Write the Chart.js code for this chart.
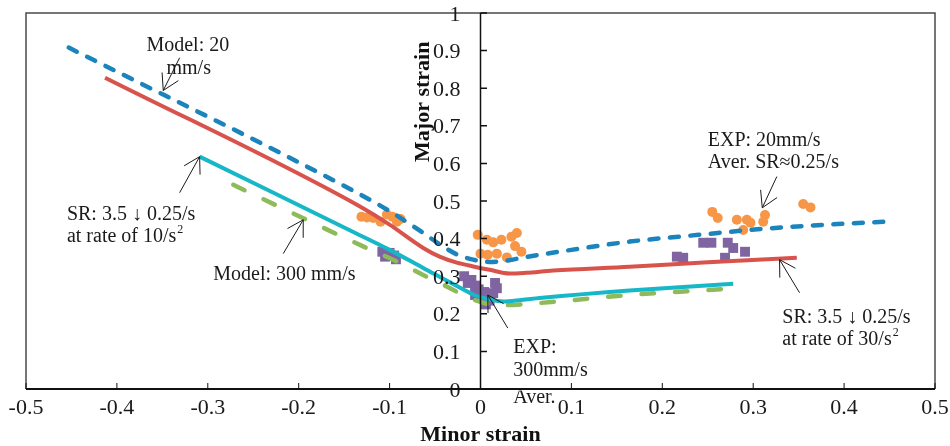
<!DOCTYPE html>
<html>
<head>
<meta charset="utf-8">
<script src="https://cdn.jsdelivr.net/npm/chart.js@4.4.1/dist/chart.umd.min.js"></script>
<style>
html, body { margin: 0; padding: 0; background: #fff; }
</style>
</head>
<body>
<canvas id="myChart" width="950" height="446"></canvas>
<script>
// axis ticks
var xTicks = [-0.5, -0.4, -0.3, -0.2, -0.1, 0, 0.1, 0.2, 0.3, 0.4, 0.5];
var yTicks = [0, 0.1, 0.2, 0.3, 0.4, 0.5, 0.6, 0.7, 0.8, 0.9, 1];

// Model: 20 mm/s (dashed blue)
var model20X = [-0.453, -0.136, -0.1, -0.063, -0.045, -0.026, -0.008, 0.01, 0.03, 0.05, 0.1, 0.164, 0.24, 0.311, 0.38, 0.447];
var model20Y = [0.908, 0.522, 0.473, 0.415, 0.385, 0.358, 0.344, 0.338, 0.342, 0.351, 0.37, 0.392, 0.41, 0.426, 0.437, 0.445];

// SR 3.5 -> 0.25/s at 30/s2 (red)
var sr30X = [-0.413, -0.136, -0.1, -0.063, -0.045, -0.026, -0.008, 0.01, 0.032, 0.05, 0.08, 0.164, 0.25, 0.348];
var sr30Y = [0.828, 0.49, 0.437, 0.375, 0.352, 0.336, 0.326, 0.317, 0.307, 0.309, 0.315, 0.325, 0.337, 0.349];

// SR 3.5 -> 0.25/s at 10/s2 (cyan)
var sr10X = [-0.309, -0.136, -0.1, -0.063, -0.026, -0.005, 0.01, 0.025, 0.045, 0.065, 0.164, 0.278];
var sr10Y = [0.618, 0.413, 0.37, 0.322, 0.274, 0.248, 0.238, 0.233, 0.237, 0.242, 0.262, 0.28];

// Model: 300 mm/s (dashed green)
var model300X = [-0.272, -0.128, -0.092, -0.062, -0.035, -0.015, 0.005, 0.025, 0.05, 0.1, 0.164, 0.269];
var model300Y = [0.543, 0.378, 0.339, 0.302, 0.27, 0.245, 0.228, 0.223, 0.226, 0.236, 0.25, 0.266];

// EXP: 20 mm/s (orange dots)
var exp20X = [-0.131, -0.125, -0.118, -0.11, -0.103, -0.097, -0.092, -0.088,
  -0.003, 0.007, 0.014, 0.023, 0.034, 0.038, 0.04, 0.0, 0.008, 0.018, 0.029, 0.045,
  0.255, 0.261, 0.282, 0.293, 0.297, 0.289, 0.313, 0.311, 0.355, 0.363];
var exp20Y = [0.458, 0.456, 0.455, 0.445, 0.464, 0.458, 0.445, 0.452,
  0.41, 0.397, 0.39, 0.397, 0.405, 0.38, 0.415, 0.36, 0.357, 0.36, 0.35, 0.365,
  0.471, 0.455, 0.45, 0.45, 0.442, 0.423, 0.463, 0.445, 0.492, 0.483];

// EXP: 300 mm/s (purple squares)
var exp300X = [-0.108, -0.1, -0.095, -0.105, -0.093,
  -0.018, -0.01, -0.014, -0.006, -0.002, 0.004, -0.006, 0.002, 0.01, 0.016, 0.018, 0.014, 0.006, 0.01,
  0.216, 0.223, 0.245, 0.254, 0.272, 0.278, 0.269, 0.291];
var exp300Y = [0.365, 0.362, 0.355, 0.352, 0.345,
  0.3, 0.29, 0.282, 0.275, 0.265, 0.258, 0.25, 0.245, 0.252, 0.282, 0.268, 0.255, 0.225, 0.235,
  0.352, 0.349, 0.389, 0.389, 0.389, 0.375, 0.349, 0.365];

// text notes and arrows, in chart units
var notes = [
  {x: -0.322, y: 0.916, text: "Model: 20", align: "center"},
  {x: -0.321, y: 0.855, text: "mm/s", align: "center"},
  {x: -0.455, y: 0.466, text: "SR: 3.5 \u2193 0.25/s", align: "left"},
  {x: -0.455, y: 0.407, text: "at rate of 10/s", sup: "2", align: "left"},
  {x: -0.294, y: 0.306, text: "Model: 300 mm/s", align: "left"},
  {x: 0.25, y: 0.663, text: "EXP: 20mm/s", align: "left"},
  {x: 0.25, y: 0.605, text: "Aver. SR\u22480.25/s", align: "left"},
  {x: 0.332, y: 0.192, text: "SR: 3.5 \u2193 0.25/s", align: "left"},
  {x: 0.332, y: 0.133, text: "at rate of 30/s", sup: "2", align: "left"},
  {x: 0.036, y: 0.112, text: "EXP:", align: "left"},
  {x: 0.036, y: 0.051, text: "300mm/s", align: "left"},
  {x: 0.036, y: -0.02, text: "Aver.", align: "left"}
];
var arrows = [
  [-0.331, 0.881, -0.349, 0.794],
  [-0.331, 0.522, -0.309, 0.618],
  [-0.217, 0.36, -0.195, 0.45],
  [0.326, 0.565, 0.31, 0.482],
  [0.351, 0.256, 0.329, 0.344],
  [0.03, 0.162, 0.008, 0.25]
];

function pts(xs, ys) {
  return xs.map(function (x, i) { return {x: x, y: ys[i]}; });
}

var serif = "'Liberation Serif', 'Times New Roman', serif";

var decor = {
  id: "decor",
  afterDatasetsDraw: function (chart) {
    var ctx = chart.ctx;
    var xs = chart.scales.x, ys = chart.scales.y;
    var a = chart.chartArea;
    var x0 = xs.getPixelForValue(0);
    ctx.save();

    // notes
    ctx.fillStyle = "#1a1a1a";
    ctx.textBaseline = "alphabetic";
    notes.forEach(function (n) {
      ctx.font = "20px " + serif;
      var px = xs.getPixelForValue(n.x), py = ys.getPixelForValue(n.y) + 6.5;
      var w = ctx.measureText(n.text).width;
      var sx = n.align === "center" ? px - w / 2 : px;
      ctx.textAlign = "left";
      ctx.fillText(n.text, sx, py);
      if (n.sup) {
        ctx.font = "12px " + serif;
        ctx.fillText(n.sup, sx + w + 1, py - 9);
      }
    });

    // arrows
    ctx.strokeStyle = "#1a1a1a";
    ctx.lineWidth = 1;
    arrows.forEach(function (r) {
      var tx = xs.getPixelForValue(r[0]), ty = ys.getPixelForValue(r[1]);
      var hx = xs.getPixelForValue(r[2]), hy = ys.getPixelForValue(r[3]);
      var ang = Math.atan2(ty - hy, tx - hx);
      ctx.beginPath();
      ctx.moveTo(tx, ty);
      ctx.lineTo(hx, hy);
      [-0.53, 0.53].forEach(function (d) {
        ctx.moveTo(hx, hy);
        ctx.lineTo(hx + 18 * Math.cos(ang + d), hy + 18 * Math.sin(ang + d));
      });
      ctx.stroke();
    });

    // white strip under the x axis hides the part of "Aver." that sits on it
    ctx.fillStyle = "#fff";
    ctx.fillRect(a.left + 2, a.bottom - 1, a.right - a.left - 4, 2.5);

    // frame
    ctx.strokeStyle = "#4a4a4a";
    ctx.lineWidth = 1.5;
    ctx.beginPath();
    ctx.moveTo(a.left, a.bottom);
    ctx.lineTo(a.left, a.top);
    ctx.lineTo(a.right, a.top);
    ctx.lineTo(a.right, a.bottom);
    ctx.stroke();

    // y axis at x = 0
    ctx.strokeStyle = "#111";
    ctx.lineWidth = 1.5;
    ctx.beginPath();
    ctx.moveTo(x0, a.top);
    ctx.lineTo(x0, a.bottom);
    yTicks.forEach(function (v) {
      var py = ys.getPixelForValue(v);
      ctx.moveTo(x0, py);
      ctx.lineTo(x0 + 6.5, py);
    });
    ctx.stroke();

    ctx.font = "22px " + serif;
    ctx.textAlign = "right";
    ctx.fillStyle = "#1a1a1a";
    yTicks.forEach(function (v) {
      ctx.fillText(String(v), x0 - 20, ys.getPixelForValue(v) + 7.5);
    });

    // x axis
    ctx.strokeStyle = "#111";
    ctx.lineWidth = 1;
    ctx.beginPath();
    xTicks.forEach(function (v) {
      if (v === 0) return;
      var px = xs.getPixelForValue(v);
      ctx.moveTo(px, a.bottom);
      ctx.lineTo(px, a.bottom - 6);
    });
    ctx.stroke();
    ctx.lineWidth = 2;
    ctx.beginPath();
    ctx.moveTo(a.left, a.bottom);
    ctx.lineTo(a.right, a.bottom);
    ctx.stroke();

    // y title
    ctx.save();
    ctx.translate(x0 - 52, ys.getPixelForValue(0.764));
    ctx.rotate(-Math.PI / 2);
    ctx.font = "bold 22px " + serif;
    ctx.textAlign = "center";
    ctx.fillStyle = "#111";
    ctx.fillText("Major strain", 0, 0);
    ctx.restore();

    ctx.restore();
  }
};

function lineSet(label, xs, ys, color, dash, width) {
  return {
    label: label,
    data: pts(xs, ys),
    showLine: true,
    borderColor: color,
    backgroundColor: color,
    borderWidth: width,
    borderDash: dash,
    borderCapStyle: dash.length ? "round" : "butt",
    cubicInterpolationMode: "monotone",
    pointRadius: 0,
    pointHoverRadius: 0
  };
}

new Chart("myChart", {
  type: "scatter",
  data: {
    datasets: [
      lineSet("Model: 20 mm/s", model20X, model20Y, "#1c84bc", [9, 11.5], 4.5),
      lineSet("SR 30/s2", sr30X, sr30Y, "#d9534d", [], 4),
      lineSet("SR 10/s2", sr10X, sr10Y, "#16b7c6", [], 4),
      lineSet("Model: 300 mm/s", model300X, model300Y, "#8fba5a", [12.5, 21], 4.5),
      {
        label: "EXP: 20mm/s",
        data: pts(exp20X, exp20Y),
        pointStyle: "circle",
        pointRadius: 5,
        borderWidth: 0,
        backgroundColor: "#f79646",
        borderColor: "#f79646"
      },
      {
        label: "EXP: 300mm/s",
        data: pts(exp300X, exp300Y),
        pointStyle: "rect",
        pointRadius: 7,
        borderWidth: 0,
        backgroundColor: "#8064a2",
        borderColor: "#8064a2"
      }
    ]
  },
  options: {
    responsive: false,
    animation: false,
    devicePixelRatio: 1,
    layout: { padding: { left: 26, right: 15, top: 13, bottom: 0 } },
    plugins: {
      legend: { display: false },
      tooltip: { enabled: false }
    },
    scales: {
      x: {
        type: "linear",
        position: "bottom",
        min: -0.5,
        max: 0.5,
        afterBuildTicks: function (s) { s.ticks = xTicks.map(function (v) { return {value: v}; }); },
        afterFit: function (s) { s.height = 57; s.paddingLeft = 0; s.paddingRight = 0; },
        grid: { display: false, drawTicks: false },
        border: { display: false },
        ticks: {
          padding: 6,
          color: "#1a1a1a",
          font: { family: serif, size: 22 },
          callback: function (v) { return String(Number(v.toFixed(1))); }
        },
        title: {
          display: true,
          text: "Minor strain",
          color: "#111",
          padding: 0,
          font: { family: serif, size: 22, weight: "bold", lineHeight: 1 }
        }
      },
      y: {
        type: "linear",
        display: false,
        min: 0,
        max: 1
      }
    }
  },
  plugins: [decor]
});
</script>
</body>
</html>
